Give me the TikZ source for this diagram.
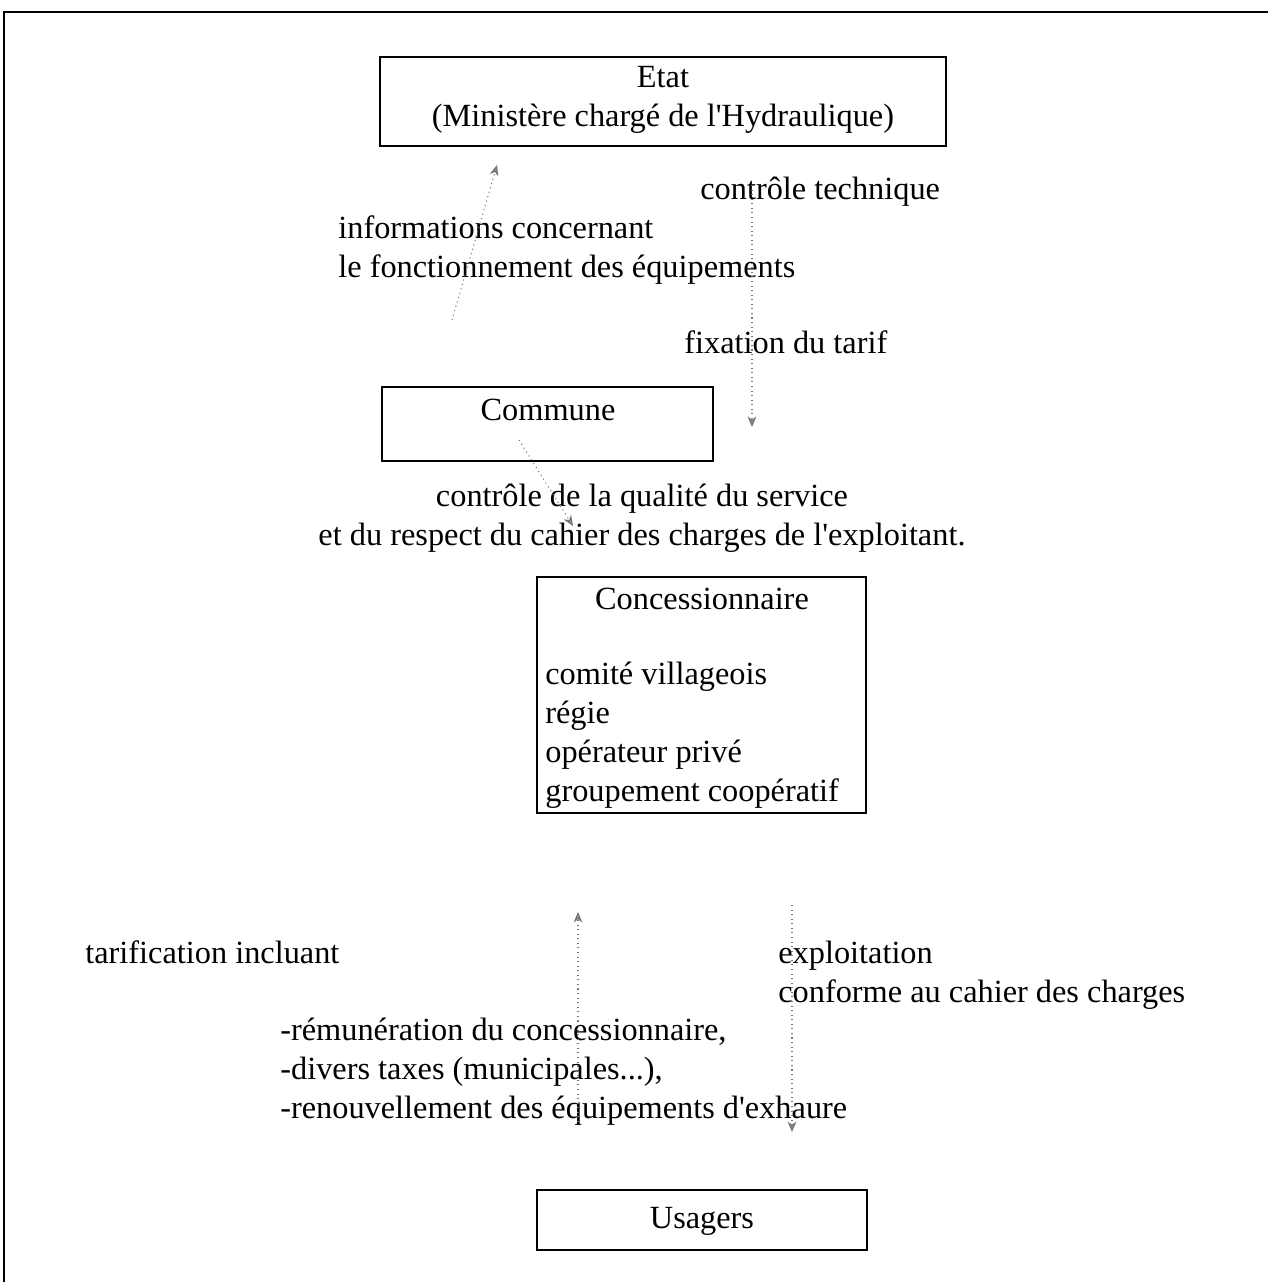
\documentclass[tikz,border=0pt]{standalone}
\usepackage{fontspec}
\setmainfont{Liberation Serif}
\usetikzlibrary{arrows.meta, positioning}
\tikzset{
  boxbase/.style={draw=black, line width=1.1pt, inner sep=0pt},
  boxlabel/.style={inner sep=0pt, align=center},
  boxtext/.style={inner sep=0pt, align=left},
  notetext/.style={inner sep=0pt, align=left},
  flowarrow/.style={draw=black!55, dotted, line width=0.6pt,
    -{Stealth[length=6pt, width=5pt, fill=black!45]}},
}
\begin{document}
\begin{tikzpicture}[x=0.02cm, y=-0.02cm,
    every node/.append style={font=\fontsize{18.4}{22.2}\selectfont}]
  \useasboundingbox (0,0) rectangle (1268,1282);
  \draw[line width=1.1pt] (4,1320) -- (4,12) -- (1320,12);

  % boxes (multi-line labels sit on their last baseline)
  \node[boxbase, minimum width=11.32cm, minimum height=1.78cm] (etat) at (663,101.5) {};
  \node[boxlabel, anchor=base] (etatlabel) at (663,126) {Etat\\(Ministère chargé de l\textquotesingle Hydraulique)};

  \node[boxbase, minimum width=6.62cm, minimum height=1.48cm] (commune) at (547.5,424) {};
  \node[boxlabel, anchor=base] (communelabel) at (548,420) {Commune};

  \node[boxbase, minimum width=6.58cm, minimum height=4.72cm] (conc) at (701.5,695) {};
  \node[boxlabel, anchor=base] (conclabel) at (702,609) {Concessionnaire};
  \node[boxtext, anchor=base west] (conctext) at (545,801) {comité villageois\\régie\\opérateur privé\\groupement coopératif};

  \node[boxbase, minimum width=6.6cm, minimum height=1.2cm] (usagers) at (702,1220) {};
  \node[boxlabel, anchor=base] (usagerslabel) at (702,1228) {Usagers};

  % labels
  \node[notetext, anchor=base west] (ctech) at (700,199) {contrôle technique};
  \node[notetext, anchor=base west] (infos) at (338,277) {informations concernant\\le fonctionnement des équipements};
  \node[notetext, anchor=base west] (tarif) at (684,353) {fixation du tarif};
  \node[boxlabel, anchor=base] (qualite) at (642,545) {contrôle de la qualité du service\\et du respect du cahier des charges de l\textquotesingle exploitant.};
  \node[notetext, anchor=base west] (tarification) at (85,963) {tarification incluant};
  \node[notetext, anchor=base west] (exploit) at (778,1002) {exploitation\\conforme au cahier des charges};
  \node[notetext, anchor=base west] (remun) at (280,1118) {-rémunération du concessionnaire,\\-divers taxes (municipales...),\\-renouvellement des équipements d\textquotesingle exhaure};

  % arrow ends
  \coordinate (infoFrom) at (452,320);
  \coordinate (infoTo) at (497,165);
  \coordinate (ctrlFrom) at (752,185);
  \coordinate (ctrlTo) at (752,427);
  \coordinate (qualFrom) at (519,440);
  \coordinate (qualTo) at (573,526);
  \coordinate (tarFrom) at (578,1122);
  \coordinate (tarTo) at (578,912);
  \coordinate (expFrom) at (792,905);
  \coordinate (expTo) at (792,1132);

  \draw[flowarrow] (infoFrom) -- (infoTo);
  \draw[flowarrow] (ctrlFrom) -- (ctrlTo);
  \draw[flowarrow] (qualFrom) -- (qualTo);
  \draw[flowarrow] (tarFrom) -- (tarTo);
  \draw[flowarrow] (expFrom) -- (expTo);
\end{tikzpicture}
\end{document}
